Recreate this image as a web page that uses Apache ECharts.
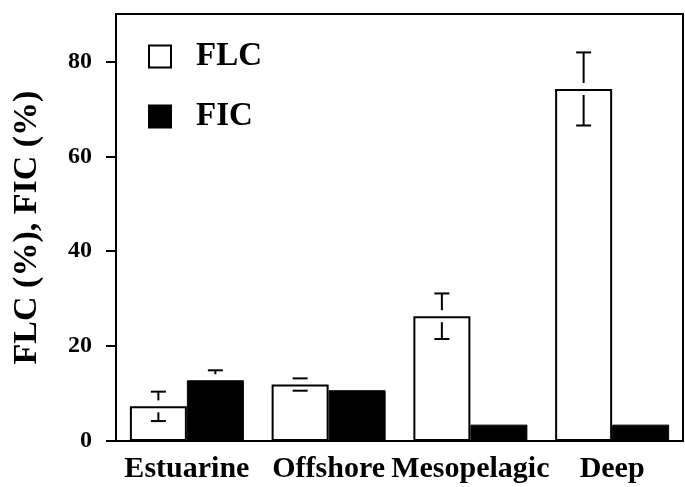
<!DOCTYPE html>
<html>
<head>
<meta charset="utf-8">
<script src="https://cdn.jsdelivr.net/npm/echarts@6/dist/echarts.min.js"></script>
<style>
html,body{margin:0;padding:0;background:#fff;}
#chart{width:685px;height:487px;}
</style>
</head>
<body>
<div id="chart"></div>
<script>
var categories = ['Estuarine', 'Offshore', 'Mesopelagic', 'Deep'];
var flcValues = [7.3, 11.9, 26.3, 74.2];
var flcErrors = [3.1, 1.3, 4.8, 7.7];
var ficValues = [12.8, 10.7, 3.45, 3.45];
var ficErrors = [2.1, 0, 0, 0];
var yTicks = [0, 20, 40, 60, 80];

var FONT = 'Liberation Serif';
var BAR_W = 57;

function errRender(offset) {
  return function (params, api) {
    var i = api.value(0), v = api.value(1), e = api.value(2);
    if (!e) return null;
    var c = api.coord([i, v]);
    var x = c[0] + offset;
    var up = api.coord([i, v + e])[1];
    var lo = api.coord([i, v - e])[1];
    var gap = 6, half = 7.5;
    var st = {stroke: '#000', lineWidth: 2};
    var ch = [];
    ch.push({type: 'line', shape: {x1: x - half, y1: up, x2: x + half, y2: up}, style: st});
    ch.push({type: 'line', shape: {x1: x - half, y1: lo, x2: x + half, y2: lo}, style: st});
    if (c[1] - gap > up) ch.push({type: 'line', shape: {x1: x, y1: up, x2: x, y2: c[1] - gap}, style: st});
    if (lo > c[1] + gap) ch.push({type: 'line', shape: {x1: x, y1: c[1] + gap, x2: x, y2: lo}, style: st});
    return {type: 'group', children: ch};
  };
}

var chart = echarts.init(document.getElementById('chart'));
chart.setOption({
  animation: false,
  backgroundColor: '#fff',
  grid: {left: 116, right: 2, top: 14, bottom: 46, show: true, borderColor: '#000', borderWidth: 2, backgroundColor: 'transparent'},
  legend: {
    data: [{name: 'FLC', icon: 'rect'}, {name: 'FIC', icon: 'rect'}],
    orient: 'vertical',
    left: 143, top: 35,
    itemWidth: 22, itemHeight: 22, itemGap: 27,
    textStyle: {fontFamily: FONT, fontWeight: 'bold', fontSize: 33, color: '#000', padding: [0, 0, 0, 20]}
  },
  xAxis: {
    type: 'category',
    data: categories,
    axisLine: {lineStyle: {color: '#000', width: 2}},
    axisTick: {alignWithLabel: true, length: 11, lineStyle: {color: '#000', width: 2}},
    axisLabel: {interval: 0, fontFamily: FONT, fontWeight: 'bold', fontSize: 30, color: '#000', margin: 13}
  },
  yAxis: {
    type: 'value',
    min: 0, max: 90, interval: 20,
    name: 'FLC (%), FIC (%)',
    nameLocation: 'middle', nameRotate: 90, nameGap: 72,
    nameTextStyle: {fontFamily: FONT, fontWeight: 'bold', fontSize: 34, color: '#000'},
    axisLine: {show: true, lineStyle: {color: '#000', width: 2}},
    axisTick: {show: true, length: 10, customValues: yTicks, lineStyle: {color: '#000', width: 2}},
    splitLine: {show: false},
    axisLabel: {
      customValues: yTicks,
      fontFamily: FONT, fontWeight: 'bold', fontSize: 24, color: '#000', margin: 24
    }
  },
  series: [
    {name: 'FLC', type: 'bar', data: flcValues, barWidth: BAR_W, barGap: '0%',
     itemStyle: {color: '#fff', borderColor: '#000', borderWidth: 2}},
    {name: 'FIC', type: 'bar', data: ficValues, barWidth: BAR_W, barGap: '0%',
     itemStyle: {color: '#000', borderColor: '#000', borderWidth: 1}},
    {name: 'FLC err', type: 'custom', renderItem: errRender(-BAR_W / 2), z: 5,
     encode: {x: 0, y: 1},
     data: flcValues.map(function (v, i) { return [i, v, flcErrors[i]]; })},
    {name: 'FIC err', type: 'custom', renderItem: errRender(BAR_W / 2), z: 5,
     encode: {x: 0, y: 1},
     data: ficValues.map(function (v, i) { return [i, v, ficErrors[i]]; })}
  ]
});
</script>
</body>
</html>
